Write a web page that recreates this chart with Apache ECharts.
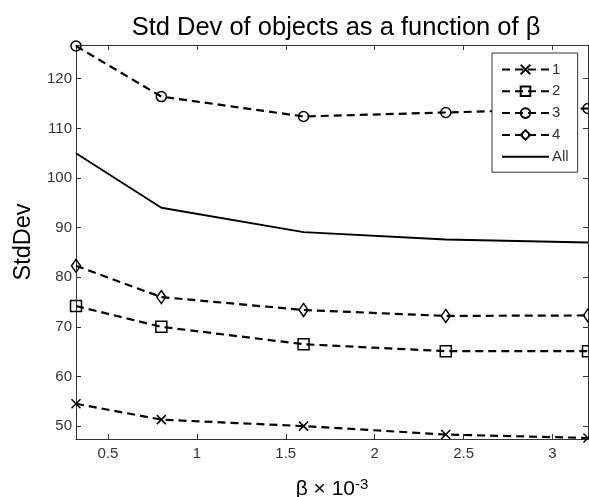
<!DOCTYPE html>
<html>
<head>
<meta charset="utf-8">
<script src="https://cdn.jsdelivr.net/npm/echarts@6/dist/echarts.min.js"></script>
<style>
  html, body { margin: 0; padding: 0; background: #fff; }
  #myChart { width: 589px; height: 497px; }
</style>
</head>
<body>
<div id="myChart"></div>
<script>
// beta values (x 10^-3)
const betaValues = [0.32, 0.8, 1.6, 2.4, 3.2]
// std dev per object
const std1 = [54.5, 51.3, 50.0, 48.3, 47.6]
const std2 = [74.2, 70.0, 66.5, 65.1, 65.1]
const std3 = [126.6, 116.4, 112.4, 113.2, 114.0]
const std4 = [82.3, 76.0, 73.4, 72.2, 72.3]
const stdAll = [105.0, 94.0, 89.1, 87.6, 87.0]
const seriesNames = ['1', '2', '3', '4', 'All']
const xTicks = [0.5, 1, 1.5, 2, 2.5, 3]
const yTicks = [50, 60, 70, 80, 90, 100, 110, 120]

const font = '"Liberation Sans", Arial, sans-serif'
const axisColor = '#333'

function pairs(ys) {
  return betaValues.map((x, i) => [x, ys[i]])
}

// 线条 + 空心标记（MATLAB 风格）
function dashedSeries(name, ys, symbol, size) {
  return {
    name: name,
    type: 'line',
    data: pairs(ys),
    symbol: symbol,
    symbolSize: size,
    showSymbol: true,
    clip: false,
    lineStyle: { color: '#000', width: 2.2, type: [8, 5] },
    itemStyle: { color: 'rgba(0,0,0,0)', borderColor: '#000', borderWidth: 1.5 },
    emphasis: { disabled: true },
    animation: false
  }
}

let myChart = echarts.init(document.getElementById('myChart'))
myChart.setOption({
  backgroundColor: '#fff',
  title: {
    text: 'Std Dev of objects as a function of β',
    left: 331,
    textAlign: 'center',
    top: 10,
    textStyle: { fontFamily: font, fontSize: 25.5, fontWeight: 'normal', color: '#000' }
  },
  legend: {
    orient: 'vertical',
    left: 492,
    top: 53,
    padding: [9, 9, 8, 9],
    itemWidth: 47,
    itemHeight: 12,
    itemGap: 6.8,
    borderColor: axisColor,
    borderWidth: 1,
    backgroundColor: '#fff',
    textStyle: { fontFamily: font, fontSize: 15, color: '#333', padding: [0, 0, 0, -2] },
    data: [
      '1', '2', '3', '4',
      { name: 'All', itemStyle: { color: 'rgba(0,0,0,0)', borderWidth: 0 } }
    ]
  },
  grid: { left: 76, right: 1, top: 45, bottom: 58, outerBoundsMode: 'none', containLabel: false },
  xAxis: [
    {
      type: 'value',
      min: 0.32,
      max: 3.2,
      position: 'bottom',
      name: '{b|β × 10}{s|-3}',
      nameLocation: 'middle',
      nameGap: 38,
      nameTextStyle: {
        rich: {
          b: { fontFamily: font, fontSize: 21, color: '#000' },
          s: { fontFamily: font, fontSize: 15, color: '#000', verticalAlign: 'top', padding: [0, 0, 10, 0] }
        }
      },
      splitLine: { show: false },
      axisLine: { lineStyle: { color: axisColor } },
      axisTick: { inside: true, length: 5, customValues: xTicks, lineStyle: { color: axisColor } },
      axisLabel: { customValues: xTicks, margin: 7, fontFamily: font, fontSize: 15, color: '#333' }
    },
    {
      type: 'value',
      min: 0.32,
      max: 3.2,
      position: 'top',
      splitLine: { show: false },
      axisLine: { lineStyle: { color: axisColor } },
      axisTick: { inside: true, length: 5, customValues: xTicks, lineStyle: { color: axisColor } },
      axisLabel: { show: false }
    }
  ],
  yAxis: [
    {
      type: 'value',
      min: 47.4,
      max: 126.8,
      position: 'left',
      name: 'StdDev',
      nameLocation: 'middle',
      nameGap: 40,
      nameTextStyle: { fontFamily: font, fontSize: 23.5, color: '#000' },
      splitLine: { show: false },
      axisLine: { show: true, lineStyle: { color: axisColor } },
      axisTick: { show: true, inside: true, length: 5, customValues: yTicks, lineStyle: { color: axisColor } },
      axisLabel: { customValues: yTicks, margin: 4, fontFamily: font, fontSize: 15, color: '#333' }
    },
    {
      type: 'value',
      min: 47.4,
      max: 126.8,
      position: 'right',
      splitLine: { show: false },
      axisLine: { show: true, lineStyle: { color: axisColor } },
      axisTick: { show: true, inside: true, length: 5, customValues: yTicks, lineStyle: { color: axisColor } },
      axisLabel: { show: false }
    }
  ],
  series: [
    dashedSeries('1', std1, 'path://M0,0L10,10M10,0L0,10', 9),
    dashedSeries('2', std2, 'rect', 11),
    dashedSeries('3', std3, 'circle', 10),
    dashedSeries('4', std4, 'diamond', [9, 13]),
    {
      name: 'All',
      type: 'line',
      data: pairs(stdAll),
      symbol: 'none',
      lineStyle: { color: '#000', width: 1.8, type: 'solid' },
      itemStyle: { color: '#000' },
      emphasis: { disabled: true },
      animation: false
    }
  ]
})
</script>
</body>
</html>
